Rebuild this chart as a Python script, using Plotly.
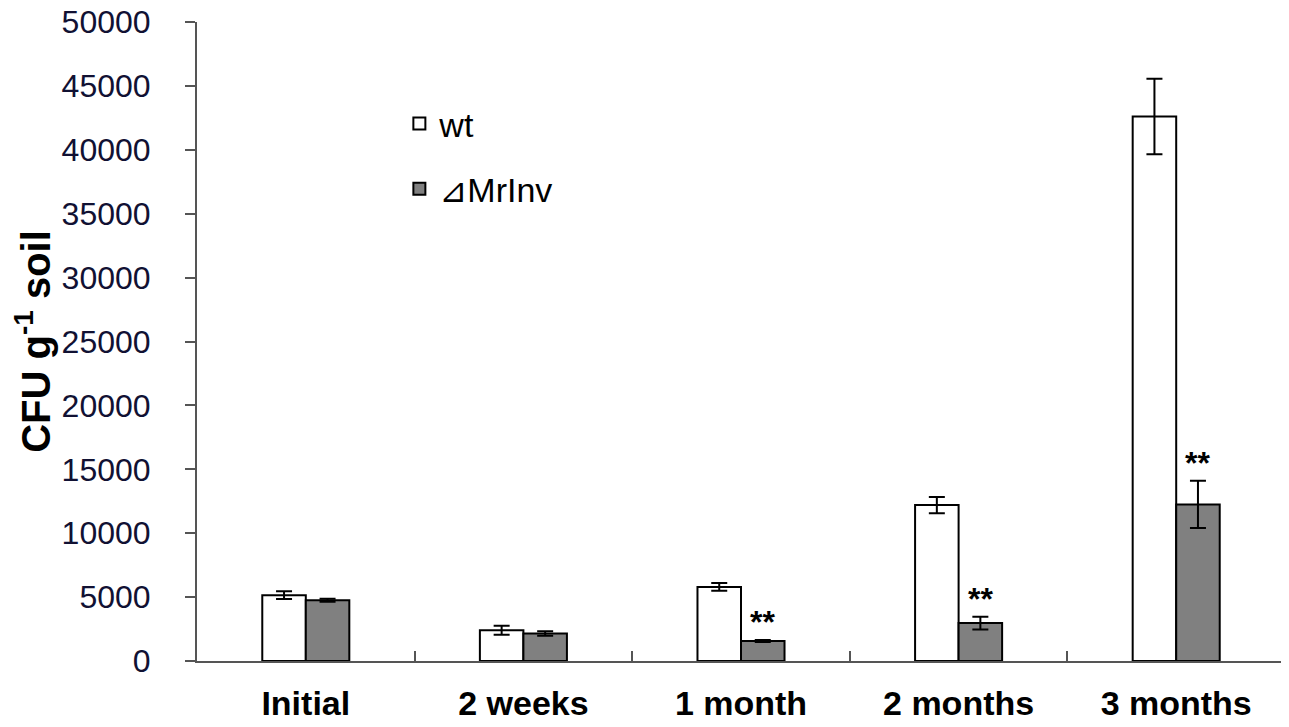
import plotly.graph_objects as go

categories = ["Initial", "2 weeks", "1 month", "2 months", "3 months"]
wt_values = [5150, 2400, 5800, 12200, 42600]
wt_errors = [300, 350, 300, 630, 2950]
mut_values = [4750, 2150, 1560, 2970, 12250]
mut_errors = [120, 180, 80, 500, 1850]
significance = ["", "", "**", "**", "**"]

FONT = "Liberation Sans"

fig = go.Figure()
fig.add_trace(go.Bar(
    x=categories, y=wt_values, name="wt", legendgroup="a",
    marker=dict(color="white", line=dict(color="black", width=2)),
    error_y=dict(type="data", array=wt_errors, color="black", thickness=2, width=8),
))
fig.add_trace(go.Bar(
    x=categories, y=mut_values, name="⊿MrInv", legendgroup="b",
    marker=dict(color="#808080", line=dict(color="black", width=2)),
    error_y=dict(type="data", array=mut_errors, color="black", thickness=2, width=8),
))

for i, s in enumerate(significance):
    if s:
        fig.add_annotation(
            x=i + 0.1, y=mut_values[i] + mut_errors[i], xref="x", yref="y",
            text=s, showarrow=False, yanchor="bottom", yshift=-2,
            font=dict(family=FONT, size=32, color="black", weight="bold"),
        )

fig.update_layout(
    width=1281, height=719,
    margin=dict(l=189, r=4, t=14, b=66, autoexpand=False),
    paper_bgcolor="white", plot_bgcolor="white",
    barmode="group", bargap=0.6, bargroupgap=0,
    font=dict(family=FONT, color="black"),
    showlegend=True,
    legend=dict(x=0.186, y=0.886, xanchor="left", yanchor="top",
                bgcolor="rgba(0,0,0,0)", traceorder="grouped", tracegroupgap=18,
                font=dict(family=FONT, size=34, color="black")),
)
fig.update_xaxes(
    type="category", range=[-0.5, 4.5], automargin=False,
    showline=True, linecolor="#555555", linewidth=2,
    ticks="inside", tickson="boundaries", ticklen=10, tickcolor="#555555", tickwidth=2,
    tickfont=dict(family=FONT, size=34, color="black", weight="bold"),
    ticklabelstandoff=11, ticklabeloverflow="allow", showgrid=False, zeroline=False,
)
fig.update_yaxes(
    range=[0, 50000], dtick=5000, tickformat="d", automargin=False,
    showline=True, linecolor="#555555", linewidth=2,
    ticks="outside", ticklen=10, tickcolor="#555555", tickwidth=2,
    tickfont=dict(family=FONT, size=32, color="#111133"),
    ticklabelstandoff=28, ticklabeloverflow="allow", showgrid=False, zeroline=False,
    title=dict(text="CFU g<sup>-1</sup> soil", standoff=20,
               font=dict(family=FONT, size=40, color="black", weight="bold")),
)

fig.write_html("out.html")
